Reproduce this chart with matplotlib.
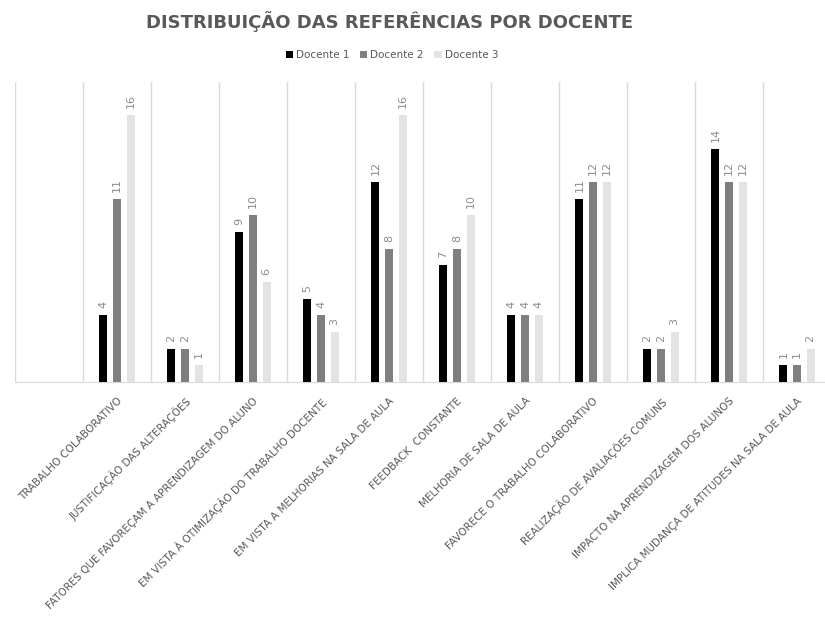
import numpy as np
import matplotlib
matplotlib.use("Agg")
import matplotlib.pyplot as plt

# first slot of the category axis is empty in the source chart
categories = [
    "",
    "TRABALHO COLABORATIVO",
    "JUSTIFICAÇÃO DAS ALTERAÇÕES",
    "FATORES QUE FAVOREÇAM A APRENDIZAGEM DO ALUNO",
    "EM VISTA À OTIMIZAÇÃO DO TRABALHO DOCENTE",
    "EM VISTA A MELHORIAS NA SALA DE AULA",
    "FEEDBACK  CONSTANTE",
    "MELHORIA DE SALA DE AULA",
    "FAVORECE O TRABALHO COLABORATIVO",
    "REALIZAÇÃO DE AVALIAÇÕES COMUNS",
    "IMPACTO NA APRENDIZAGEM DOS ALUNOS",
    "IMPLICA MUDANÇA DE ATITUDES NA SALA DE AULA",
]
docente1 = [np.nan, 4, 2, 9, 5, 12, 7, 4, 11, 2, 14, 1]
docente2 = [np.nan, 11, 2, 10, 4, 8, 8, 4, 12, 2, 12, 1]
docente3 = [np.nan, 16, 1, 6, 3, 16, 10, 4, 12, 3, 12, 2]
series = [("Docente 1", docente1, "#000000"),
          ("Docente 2", docente2, "#7f7f7f"),
          ("Docente 3", docente3, "#e4e3e3")]

W, H = 825, 620
fig = plt.figure(figsize=(W / 100, H / 100), dpi=100)
ax = fig.add_axes([15 / W, 1 - 382 / H, (831 - 15) / W, (382 - 82) / H])

x = np.arange(len(categories))
bw, step = 0.115, 0.2
for k, (name, vals, col) in enumerate(series):
    pos = x + (k - 1) * step
    ax.bar(pos, vals, width=bw, color=col, label=name, zorder=3)
    for px, v in zip(pos, vals):
        if np.isnan(v):
            continue
        ax.annotate(f"{v:g}", (px, v), xytext=(0, 5), textcoords="offset points",
                    rotation=90, ha="center", va="bottom", fontsize=8, color="#8c8c8c")

for b in np.arange(-0.5, len(categories), 1.0):
    ax.axvline(b, color="#d9d9d9", lw=1, zorder=1)

ax.set_xlim(-0.5, len(categories) - 0.5)
ax.set_ylim(0, 18)
ax.set_yticks([])
ax.set_xticks(x)
ax.set_xticklabels(categories, rotation=45, ha="right", rotation_mode="anchor",
                   fontsize=7.5, color="#595959")
ax.tick_params(axis="x", length=0, pad=10)
for s in ["top", "left", "right"]:
    ax.spines[s].set_visible(False)
ax.spines["bottom"].set_color("#d9d9d9")

fig.text(390 / W, 1 - 22 / H, "DISTRIBUIÇÃO DAS REFERÊNCIAS POR DOCENTE", ha="center", va="center",
         fontsize=13, fontweight="bold", color="#595959")
fig.legend(loc="center", bbox_to_anchor=(392 / W, 1 - 55 / H), ncol=3, frameon=False,
           fontsize=7.5, handlelength=0.7, handleheight=0.7, columnspacing=1.0,
           handletextpad=0.3, labelcolor="#595959")

fig.savefig("out.png", dpi=100)
